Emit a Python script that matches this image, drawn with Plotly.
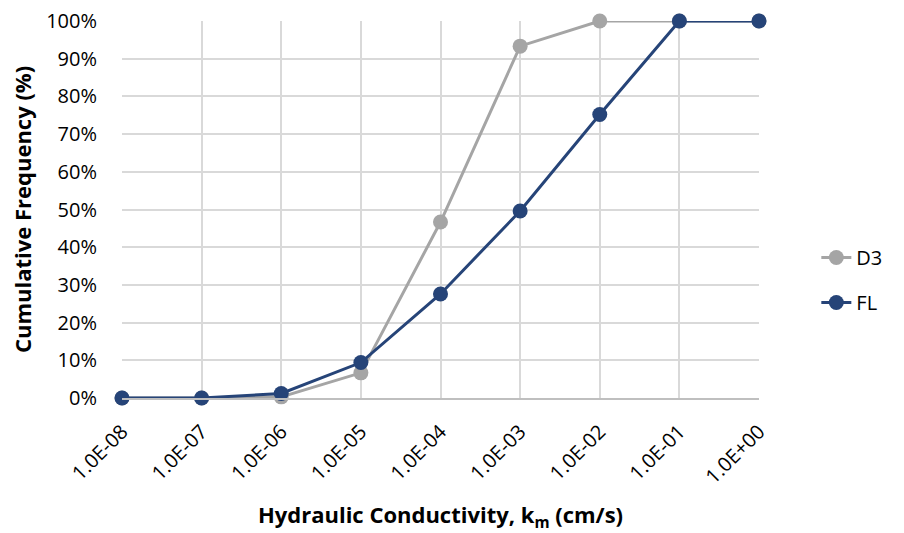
import plotly.graph_objects as go

# Hydraulic conductivity classes (cm/s)
k_labels = ["1.0E-08", "1.0E-07", "1.0E-06", "1.0E-05", "1.0E-04",
            "1.0E-03", "1.0E-02", "1.0E-01", "1.0E+00"]

# Cumulative frequency (fraction) per class
d3_cum = [0.0, 0.0, 0.003, 0.0667, 0.4667, 0.9333, 1.0, 1.0, 1.0]
fl_cum = [0.0, 0.0, 0.012, 0.094, 0.276, 0.496, 0.752, 1.0, 1.0]

y_ticks = [i / 10 for i in range(11)]

FONT = "'Open Sans', sans-serif"
GRAY = "#A5A5A5"
NAVY = "#264478"

fig = go.Figure()
fig.add_trace(go.Scatter(
    x=k_labels, y=d3_cum, name="D3", mode="lines+markers",
    legendgroup="d3", cliponaxis=False,
    line=dict(color=GRAY, width=3),
    marker=dict(color=GRAY, size=15),
))
fig.add_trace(go.Scatter(
    x=k_labels, y=fl_cum, name="FL", mode="lines+markers",
    legendgroup="fl", cliponaxis=False,
    line=dict(color=NAVY, width=3),
    marker=dict(color=NAVY, size=15),
))

fig.update_layout(
    width=904, height=533,
    margin=dict(l=122, r=145, t=21, b=135, autoexpand=False),
    paper_bgcolor="white", plot_bgcolor="white",
    font=dict(family=FONT, size=20, color="#000000"),
    showlegend=True,
    legend=dict(x=1.09, y=0.313, xanchor="left", yanchor="middle",
                font=dict(size=20), itemwidth=30, tracegroupgap=16,
                traceorder="grouped"),
    xaxis=dict(
        type="category", range=[0, 8],
        tickangle=-45, showgrid=True, gridcolor="#D9D9D9", gridwidth=2,
        showline=True, linecolor="#BFBFBF", linewidth=2,
        tickfont=dict(size=20), ticklabelstandoff=12,
        title=dict(text="<b>Hydraulic Conductivity, k<sub>m</sub> (cm/s)</b>",
                   font=dict(size=22), standoff=22),
        zeroline=False,
    ),
    yaxis=dict(
        range=[0, 1], tickvals=y_ticks, tickformat=".0%",
        showgrid=True, gridcolor="#D9D9D9", gridwidth=2,
        showline=False, zeroline=False,
        tickfont=dict(size=20), ticklabelstandoff=24,
        title=dict(text="<b>Cumulative Frequency (%)</b>",
                   font=dict(size=22), standoff=8),
    ),
)

fig.write_html("out.html")
